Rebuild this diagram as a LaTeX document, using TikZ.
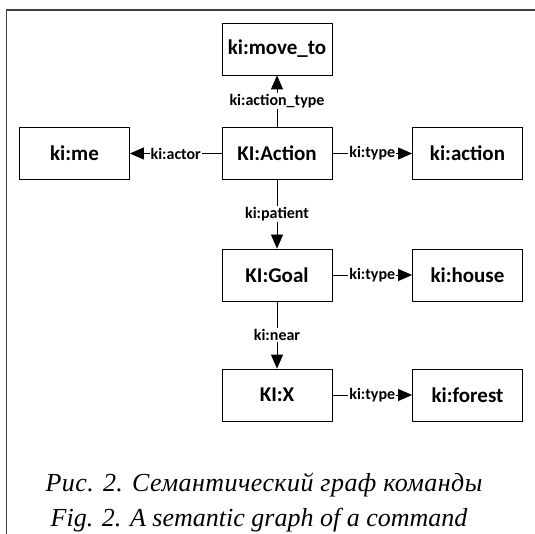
\documentclass[tikz,border=0pt]{standalone}
\usepackage{fontspec}
\setmainfont{Liberation Serif}
\newfontfamily\boxfont{Carlito}
\newfontfamily\capfont{Liberation Serif Italic}
\usetikzlibrary{arrows.meta}
\begin{document}
\begin{tikzpicture}[x=1pt,y=-1pt,
  bx/.style={draw, line width=0.8pt, minimum width=110pt, minimum height=52pt, inner sep=0pt,
    font=\boxfont\bfseries\fontsize{21}{21}\selectfont},
  lbl/.style={fill=white, inner sep=1pt, font=\boxfont\bfseries\fontsize{16}{16}\selectfont},
  conn/.style={line width=0.8pt, -{Triangle[length=14pt,width=12pt]}},
  frameline/.style={line width=1.4pt, draw=black!75},
  captext/.style={font=\capfont\fontsize{26}{26}\selectfont, inner sep=0pt, anchor=base}]
\useasboundingbox (0,0) rectangle (535,534);
\draw[frameline] (6.5,534) -- (6.5,10) -- (535,10);
\node[bx] (moveto) at (277,49) {ki:move\_to};
\node[bx] (me) at (74.5,153.5) {ki:me};
\node[bx] (Action) at (277,153.5) {KI:Action};
\node[bx] (action) at (467.5,153.5) {ki:action};
\node[bx] (Goal) at (277,275) {KI:Goal};
\node[bx] (house) at (467.5,275) {ki:house};
\node[bx] (X) at (277,395) {KI:X};
\node[bx] (forest) at (467.5,395) {ki:forest};
\draw[conn] (Action) -- node[lbl] {ki:action\_type} (moveto);
\draw[conn] (Action) -- node[lbl] {ki:actor} (me);
\draw[conn] (Action) -- node[lbl] {ki:type} (action);
\draw[conn] (Action) -- node[lbl] {ki:patient} (Goal);
\draw[conn] (Goal) -- node[lbl] {ki:type} (house);
\draw[conn] (Goal) -- node[lbl] {ki:near} (X);
\draw[conn] (X) -- node[lbl] {ki:type} (forest);
\node[captext] (cap1) at (264,491) {\addfontfeature{LetterSpace=1.7}Рис. 2. Семантический граф команды};
\node[captext] (cap2) at (259,526) {Fig. 2. A semantic graph of a command};
\end{tikzpicture}
\end{document}
